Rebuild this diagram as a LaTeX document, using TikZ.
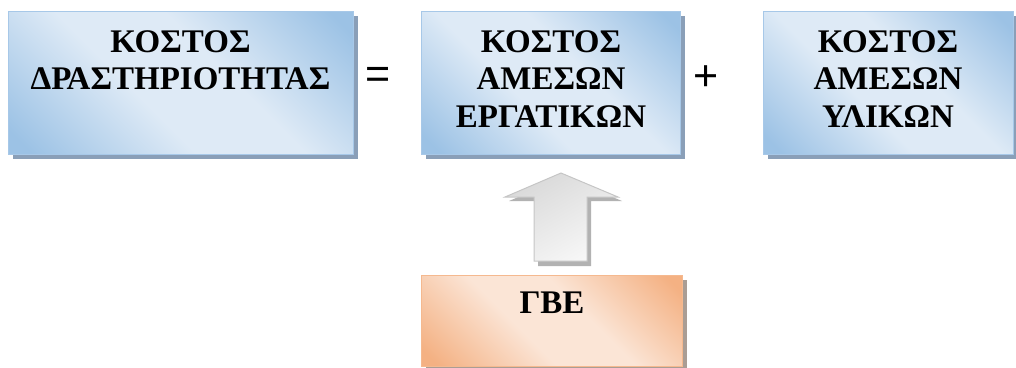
\documentclass[tikz,border=0pt]{standalone}
\usepackage{fontspec}
\setmainfont{Liberation Serif}
\newfontfamily\opfont{Liberation Sans}
\usetikzlibrary{shadows}
\definecolor{bdark}{HTML}{9CC2E5}
\definecolor{blight}{HTML}{DEEAF6}
\definecolor{bborder}{HTML}{A7C8E8}
\definecolor{bshadow}{HTML}{8A9FB8}
\definecolor{odark}{HTML}{F4B183}
\definecolor{olight}{HTML}{FBE5D6}
\definecolor{oborder}{HTML}{F5B98F}
\definecolor{oshadow}{HTML}{AA9D94}
\definecolor{aborder}{HTML}{C6C6C6}
\definecolor{ashadow}{HTML}{B2B2B2}
\pgfdeclarehorizontalshading{blueband}{100bp}{color(0bp)=(bdark); color(18bp)=(bdark); color(42bp)=(blight); color(58bp)=(blight); color(82bp)=(bdark); color(100bp)=(bdark)}
\pgfdeclarehorizontalshading{orangeband}{100bp}{color(0bp)=(odark); color(18bp)=(odark); color(42bp)=(olight); color(58bp)=(olight); color(82bp)=(odark); color(100bp)=(odark)}
\begin{document}
\begin{tikzpicture}[x=1pt,y=-1pt]
\useasboundingbox (0,0) rectangle (1016,367);
\tikzset{
  bluebox/.style={rectangle, anchor=north west, draw=bborder, line width=1.3pt,
    shading=blueband, shading angle=45,
    drop shadow={shadow xshift=4pt, shadow yshift=-4pt, fill=bshadow, opacity=1}},
  orangebox/.style={rectangle, anchor=north west, draw=oborder, line width=1.3pt,
    shading=orangeband, shading angle=45,
    drop shadow={shadow xshift=4pt, shadow yshift=-4pt, fill=oshadow, opacity=1}},
  lbl/.style={font=\bfseries\fontsize{33}{37.5}\selectfont, align=center, inner sep=0pt, anchor=north},
  opsign/.style={font=\opfont\fontsize{43}{45}\selectfont, inner sep=0pt},
}
% boxes
\node[bluebox, minimum width=345pt, minimum height=143pt] (b1) at (8,11) {};
\node[bluebox, minimum width=259pt, minimum height=143pt] (b2) at (421,11) {};
\node[bluebox, minimum width=250pt, minimum height=143pt] (b3) at (763,11) {};
\node[orangebox, minimum width=261pt, minimum height=91pt] (b4) at (421,275) {};
% texts
\node[lbl] (t1) at (180.5,30) {ΚΟΣΤΟΣ\\ΔΡΑΣΤΗΡΙΟΤΗΤΑΣ};
\node[lbl] (t2) at (551,30) {ΚΟΣΤΟΣ\\ΑΜΕΣΩΝ\\ΕΡΓΑΤΙΚΩΝ};
\node[lbl] (t3) at (888,30) {ΚΟΣΤΟΣ\\ΑΜΕΣΩΝ\\ΥΛΙΚΩΝ};
\node[lbl] (t4) at (552,292) {ΓΒΕ};
% operators
\node[opsign] (eq) at (378.5,78) {=};
\node[opsign] (pl) at (706,78) {+};
% block arrow
\coordinate (tip) at (561,173);
\fill[ashadow] (505+4,197+4) -- (534+4,197+4) -- (534+4,261+5) -- (587+4,261+5) -- (587+4,197+4) -- (618+4,197+4) -- (561+4,173+4) -- cycle;
\draw[aborder, line width=1pt, left color=black!15, right color=white!97!black, shading angle=30]
  (505,197) -- (534,197) -- (534,261) -- (587,261) -- (587,197) -- (618,197) -- (tip) -- cycle;
\end{tikzpicture}
\end{document}
